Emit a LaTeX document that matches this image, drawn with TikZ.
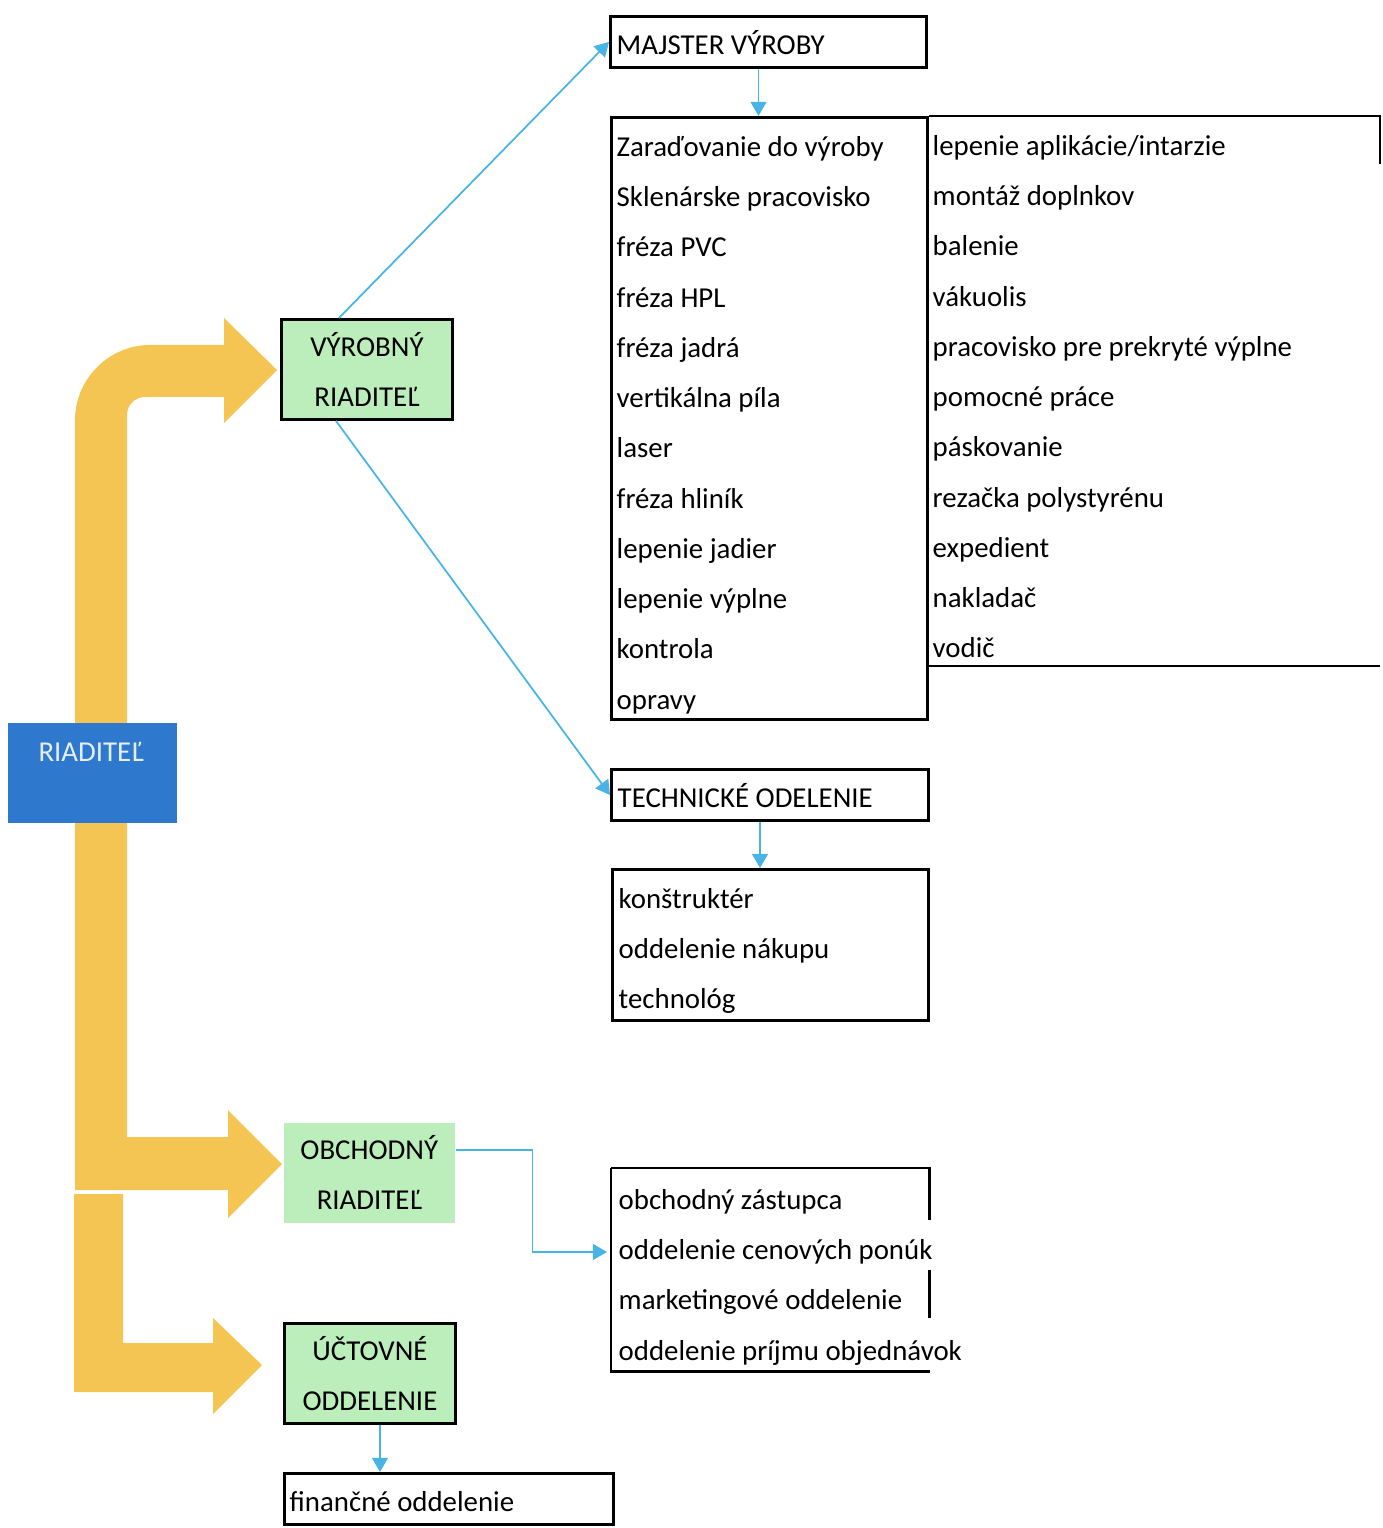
\documentclass[tikz,border=0pt]{standalone}
\usepackage{fontspec}
\setmainfont{Carlito}
\usetikzlibrary{arrows.meta}
\definecolor{zlta}{RGB}{244,197,82}
\definecolor{zelena}{RGB}{188,238,188}
\definecolor{modra}{RGB}{46,120,205}
\definecolor{linka}{RGB}{72,180,230}
\def\rozostup{50.25}

\begin{document}
\begin{tikzpicture}[x=0.01cm, y=-0.01cm, font=\fontsize{8.2}{10}\selectfont,
    box/.style={draw, line width=0.8pt, inner sep=0pt, anchor=north west},
    vedenie/.style={fill=zelena, inner sep=0pt, anchor=north west, align=center,
      minimum width=1.71cm, minimum height=1.0cm},
    polozka/.style={inner sep=0pt, anchor=mid west},
    link/.style={linka, line width=0.5pt, -{Triangle[length=4pt, width=4.5pt]}}]
    \useasboundingbox (0,0) rectangle (1383,1528);

    % Zlte sipky
    \fill[zlta] (75,730) -- (75,420) .. controls (75,379) and (109,345) .. (150,345)
      -- (224,345) -- (224,318) -- (277,370) -- (224,423) -- (224,397) -- (145,397)
      .. controls (135,397) and (127,405) .. (127,415) -- (127,730) -- cycle;
    \fill[zlta] (75,810) -- (75,1190) -- (228,1190) -- (228,1218) -- (282,1164)
      -- (228,1110) -- (228,1137) -- (127,1137) -- (127,810) -- cycle;
    \fill[zlta] (74,1194) -- (74,1392) -- (213,1392) -- (213,1414) -- (262,1365)
      -- (213,1318) -- (213,1343) -- (123,1343) -- (123,1194) -- cycle;

    % Riaditel
    \node[fill=modra, inner sep=0pt, anchor=north west, minimum width=1.69cm,
      minimum height=1.0cm] (riad) at (7,722) {};
    \node[polozka, anchor=center, text=white!88!modra] (riadt) at (91,752) {RIADITEĽ};

    % Vedenie
    \node[vedenie, draw, line width=0.8pt] (vyr) at (280,318) {VÝROBNÝ\\[4.3pt]RIADITEĽ};
    \node[vedenie] (obch) at (283,1122) {OBCHODNÝ\\[4.3pt]RIADITEĽ};
    \node[vedenie, draw, line width=0.8pt] (uct) at (283,1322) {ÚČTOVNÉ\\[4.3pt]ODDELENIE};

    % Vyroba
    \node[box, minimum width=3.16cm, minimum height=0.51cm] (maj) at (609,15) {};
    \node[polozka] (majt) at (616,46) {MAJSTER VÝROBY};
    \node[box, minimum width=3.16cm, minimum height=6.02cm] (prod) at (610,116) {};
    \foreach \t [count=\i] in {Zaraďovanie do výroby, Sklenárske pracovisko, fréza PVC,
      fréza HPL, fréza jadrá, vertikálna píla, laser, fréza hliník, lepenie jadier,
      lepenie výplne, kontrola, opravy}
      \node[polozka] (p\i) at (616,{148+\rozostup*(\i-1)}) {\t};
    \foreach \t [count=\i] in {lepenie aplikácie/intarzie, montáž doplnkov, balenie,
      vákuolis, pracovisko pre prekryté výplne, pomocné práce, páskovanie,
      rezačka polystyrénu, expedient, nakladač, vodič}
      \node[polozka] (q\i) at (932,{147+\rozostup*(\i-1)}) {\t};
    \coordinate (prodR) at (1380,116);
    \draw[line width=0.8pt] (prod.north east) -- (prodR) -- ++(0,48);
    \draw[line width=0.8pt] (prod.east |- 0,666) -- (1380,666);

    % Technicke oddelenie
    \node[box, minimum width=3.17cm, minimum height=0.51cm] (tech) at (610,768) {};
    \node[polozka] (techt) at (617,799) {TECHNICKÉ ODELENIE};
    \node[box, minimum width=3.16cm, minimum height=1.51cm] (techz) at (611,868) {};
    \foreach \t [count=\i] in {konštruktér, oddelenie nákupu, technológ}
      \node[polozka] (t\i) at (618,{900+\rozostup*(\i-1)}) {\t};

    % Obchod
    \node[inner sep=0pt, anchor=north west, minimum width=3.17cm,
      minimum height=2.02cm] (sales) at (611,1168) {};
    \draw[line width=0.8pt] (sales.north west) -- (sales.north east) -- ++(0,52);
    \draw[line width=0.8pt] (sales.east |- 0,1270) -- (sales.east |- 0,1318);
    \draw[line width=0.8pt] (sales.north west) -- (sales.south west) -- (sales.south east);
    \foreach \t [count=\i] in {obchodný zástupca, oddelenie cenových ponúk,
      marketingové oddelenie, oddelenie príjmu objednávok}
      \node[polozka] (s\i) at (618,{1201+\rozostup*(\i-1)}) {\t};

    % Uctovne
    \node[box, minimum width=3.29cm, minimum height=0.51cm] (fin) at (283,1472) {};
    \node[polozka] (fint) at (289,1503) {finančné oddelenie};

    % Prepojenia
    \draw[link] ([xshift=-0.28cm]vyr.north) -- (maj.west);
    \draw[link] ([xshift=-0.31cm]vyr.south) -- (tech.west);
    \draw[link] ([xshift=-0.1cm]maj.south) -- ([xshift=-0.1cm]maj.south |- prod.north);
    \draw[link] ([xshift=-0.1cm]tech.south) -- ([xshift=-0.1cm]tech.south |- techz.north);
    \draw[link] ([yshift=0.23cm]obch.east) -| ([xshift=0.77cm]obch.east |- s2.west)
      -- ([xshift=-0.04cm]sales.west |- s2.west);
    \draw[link] ([xshift=0.1cm]uct.south) -- ([xshift=0.1cm]uct.south |- fin.north);
\end{tikzpicture}
\end{document}
